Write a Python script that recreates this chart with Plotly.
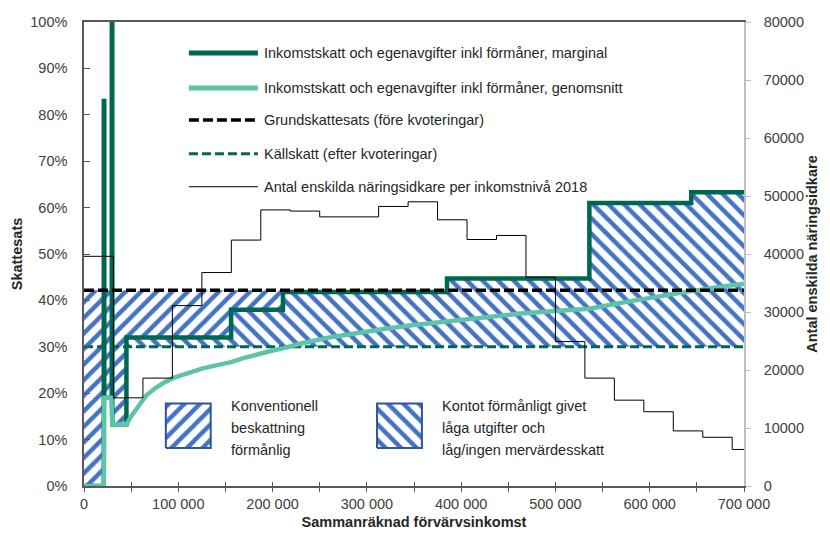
import plotly.graph_objects as go

# ------------------------------------------------------------------ data
income_ticks = [0, 100000, 200000, 300000, 400000, 500000, 600000, 700000]
rate_ticks = [0, 10, 20, 30, 40, 50, 60, 70, 80, 90, 100]
count_ticks = [0, 10000, 20000, 30000, 40000, 50000, 60000, 70000, 80000]

# Marginal tax (step function, value holds until next breakpoint)
marginal_income = [0, 21000, 21500, 29500, 30000, 45000, 156000, 211000, 385000, 536000, 644000, 700000]
marginal_rate = [0, 83, 19, 120, 13.3, 32, 38, 41.8, 44.7, 61, 63.3, 63.3]

# Average tax
average_income = [0, 21000, 21500, 29000, 30000, 45000, 50000, 55000, 60000, 66000, 75000, 85000,
                  95000, 110000, 125000, 140000, 156000, 170000, 185000, 200000, 211000, 230000,
                  260000, 290000, 320000, 350000, 385000, 420000, 460000, 500000, 536000, 570000,
                  600000, 644000, 670000, 700000]
average_rate = [0, 0, 19, 19, 13.3, 13.3, 15.0, 16.5, 17.8, 19.5, 21.0, 22.3,
                23.3, 24.4, 25.3, 26.0, 26.7, 27.6, 28.5, 29.2, 29.7, 30.7,
                32.0, 33.0, 33.9, 34.7, 35.5, 36.4, 37.1, 37.7, 38.2, 39.5,
                40.6, 42.0, 42.8, 43.6]

grundskattesats = 42.2
kallskatt = 30.0

# Number of sole traders per income bin (bin starts, last point = axis end)
count_income = [0, 31250, 62500, 93750, 125000, 156250, 187500, 218750, 250000, 281250,
                312500, 343750, 375000, 406250, 437500, 468750, 500000, 531250, 562500,
                593750, 625000, 656250, 687500, 700000]
count_value = [39600, 15200, 18600, 31100, 36800, 42400, 47600, 47400, 46400, 46400,
               48200, 49000, 45900, 42500, 43200, 36000, 24900, 18600, 14800,
               12800, 9500, 8400, 6300, 6300]

legend_line_labels = [
    "Inkomstskatt och egenavgifter inkl förmåner, marginal",
    "Inkomstskatt och egenavgifter inkl förmåner, genomsnitt",
    "Grundskattesats (före kvoteringar)",
    "Källskatt (efter kvoteringar)",
    "Antal enskilda näringsidkare per inkomstnivå 2018",
]
legend_hatch_labels = [
    ["Konventionell", "beskattning", "förmånlig"],
    ["Kontot förmånligt givet", "låga utgifter och", "låg/ingen mervärdesskatt"],
]
x_title = "Sammanräknad förvärvsinkomst"
y_title = "Skattesats"
y2_title = "Antal enskilda näringsidkare"

# ------------------------------------------------------------------ styles
FONT = "Liberation Sans, Arial, sans-serif"
DARK_GREEN = "#006850"
TEAL = "#5EC4A8"
HATCH_BLUE = "#4472C4"
BOX_BLUE = "#2F5597"
AXIS_DARK = "#595959"
AXIS_LIGHT = "#BFBFBF"
TEXT = "#404040"
LEG_TEXT = "#262626"
PATTERN = dict(fgcolor=HATCH_BLUE, bgcolor="white", size=11, solidity=0.4, fgopacity=1)


def hv_expand(xs, ys):
    px, py = [], []
    for i in range(len(xs)):
        if i > 0:
            px.append(xs[i]); py.append(ys[i - 1])
        px.append(xs[i]); py.append(ys[i])
    return px, py


# region where marginal stays above the källskatt to the end
k0 = min(i for i in range(len(marginal_rate)) if all(v >= kallskatt for v in marginal_rate[i:]))
# first breakpoint where marginal reaches grundskattesats
c1 = next(i for i in range(k0, len(marginal_rate)) if marginal_rate[i] >= grundskattesats - 1)

conv_x, conv_y = hv_expand(marginal_income[:c1 + 1],
                           [min(v, grundskattesats) for v in marginal_rate[:c1 + 1]])
conv_x += [marginal_income[c1], marginal_income[0]]
conv_y += [grundskattesats, grundskattesats]

kont_x, kont_y = hv_expand(marginal_income[k0:], [max(v, kallskatt) for v in marginal_rate[k0:]])
kont_x += [marginal_income[-1], marginal_income[k0]]
kont_y += [kallskatt, kallskatt]

x_span = [income_ticks[0], income_ticks[-1]]

fig = go.Figure()

fig.add_trace(go.Scatter(
    x=conv_x, y=conv_y, mode="lines", fill="toself", line=dict(width=0, color="rgba(0,0,0,0)"),
    fillpattern=dict(shape="/", **PATTERN), hoverinfo="skip", showlegend=False))
fig.add_trace(go.Scatter(
    x=kont_x, y=kont_y, mode="lines", fill="toself", line=dict(width=0, color="rgba(0,0,0,0)"),
    fillpattern=dict(shape="\\", **PATTERN), hoverinfo="skip", showlegend=False))

fig.add_trace(go.Scatter(
    x=x_span, y=[kallskatt, kallskatt], mode="lines",
    line=dict(color=DARK_GREEN, width=3, dash="9px,4px"), showlegend=False))

fig.add_trace(go.Scatter(
    x=marginal_income, y=marginal_rate, mode="lines", line_shape="hv",
    line=dict(color=DARK_GREEN, width=4.5), showlegend=False))

fig.add_trace(go.Scatter(
    x=average_income, y=average_rate, mode="lines",
    line=dict(color=TEAL, width=4.5), showlegend=False))

fig.add_trace(go.Scatter(
    x=x_span, y=[grundskattesats, grundskattesats], mode="lines",
    line=dict(color="black", width=3.5, dash="10px,4px"), showlegend=False))

fig.add_trace(go.Scatter(
    x=count_income, y=count_value, mode="lines", line_shape="hv", yaxis="y2",
    line=dict(color="black", width=1), showlegend=False))

# hatched legend swatches (drawn in an overlay axis spanning the plot area 0..1)
for (x0, x1), shape in [((0.124, 0.192), "/"), ((0.444, 0.512), "\\")]:
    y0, y1 = 0.082, 0.178
    fig.add_trace(go.Scatter(
        x=[x0, x1, x1, x0, x0], y=[y0, y0, y1, y1, y0], xaxis="x3", yaxis="y3",
        mode="lines", fill="toself", line=dict(color=BOX_BLUE, width=2),
        fillpattern=dict(shape=shape, **PATTERN), hoverinfo="skip", showlegend=False))

# line legend (manual, long swatches)
legend_y = [0.933, 0.858, 0.789, 0.716, 0.645]
legend_styles = [
    dict(color=DARK_GREEN, width=5),
    dict(color=TEAL, width=5),
    dict(color="black", width=3.5, dash="10px,4px"),
    dict(color=DARK_GREEN, width=3, dash="9px,4px"),
    dict(color="black", width=1),
]
shapes = []
annotations = []
for lab, yy, st in zip(legend_line_labels, legend_y, legend_styles):
    shapes.append(dict(type="line", xref="paper", yref="paper", x0=0.159, x1=0.2635, y0=yy, y1=yy,
                       line=st))
    annotations.append(dict(xref="paper", yref="paper", x=0.27, y=yy, text=lab, showarrow=False,
                            xanchor="left", yanchor="middle",
                            font=dict(family=FONT, size=14.5, color=LEG_TEXT)))

for lines, xx in zip(legend_hatch_labels, [0.219, 0.539]):
    for j, ln in enumerate(lines):
        annotations.append(dict(xref="paper", yref="paper", x=xx, y=0.172 - j * 0.0473, text=ln,
                                showarrow=False, xanchor="left", yanchor="middle", align="left",
                                font=dict(family=FONT, size=14.5, color=LEG_TEXT)))

fig.update_layout(
    width=830, height=540,
    margin=dict(l=84, r=78, t=22, b=53),
    paper_bgcolor="white", plot_bgcolor="white",
    font=dict(family=FONT, size=14.5, color=TEXT),
    separators=", ",
    showlegend=False,
    shapes=shapes, annotations=annotations,
    xaxis=dict(range=x_span, tickvals=income_ticks, tickformat=",d",
               ticks="outside", ticklen=4, tickcolor=AXIS_DARK,
               minor=dict(dtick=50000, ticks="outside", ticklen=4, tickcolor=AXIS_DARK),
               showline=True, linecolor=AXIS_DARK, linewidth=1.5, mirror=True,
               showgrid=False, zeroline=False,
               title=dict(text="<b>" + x_title + "</b>", standoff=6,
                          font=dict(family=FONT, size=14.5, color=LEG_TEXT))),
    xaxis4=dict(overlaying="x", matches="x", tickvals=income_ticks, showticklabels=False,
                ticks="inside", ticklen=4, tickcolor=AXIS_DARK,
                minor=dict(dtick=50000, ticks="inside", ticklen=4, tickcolor=AXIS_DARK),
                showline=False, showgrid=False, zeroline=False),
    yaxis=dict(range=[rate_ticks[0], rate_ticks[-1]], tickvals=rate_ticks,
               ticktext=[f"{v}%" for v in rate_ticks],
               ticks="inside", ticklen=6, tickcolor=AXIS_DARK, ticklabelstandoff=12,
               showline=True, linecolor=AXIS_DARK, linewidth=1.5,
               showgrid=False, zeroline=False,
               title=dict(text="<b>" + y_title + "</b>", standoff=4,
                          font=dict(family=FONT, size=14.5, color=LEG_TEXT))),
    yaxis2=dict(range=[count_ticks[0], count_ticks[-1]], tickvals=count_ticks, tickformat="d",
                overlaying="y", side="right",
                ticks="outside", ticklen=5, tickcolor=AXIS_LIGHT, ticklabelstandoff=10,
                showline=True, linecolor=AXIS_LIGHT, linewidth=1.5,
                showgrid=False, zeroline=False,
                title=dict(text="<b>" + y2_title + "</b>", standoff=4,
                           font=dict(family=FONT, size=14.5, color=LEG_TEXT))),
    xaxis3=dict(overlaying="x", range=[0, 1], visible=False, fixedrange=True),
    yaxis3=dict(overlaying="y", range=[0, 1], visible=False, fixedrange=True),
)

# empty trace so the xaxis4 overlay (inner half of the crossing ticks) is rendered
fig.add_trace(go.Scatter(x=x_span, y=[None, None], xaxis="x4", mode="lines",
                         hoverinfo="skip", showlegend=False))

fig.write_html("out.html", config={"displayModeBar": False},
               post_script="document.body.style.margin='0';document.body.style.overflow='hidden';")
